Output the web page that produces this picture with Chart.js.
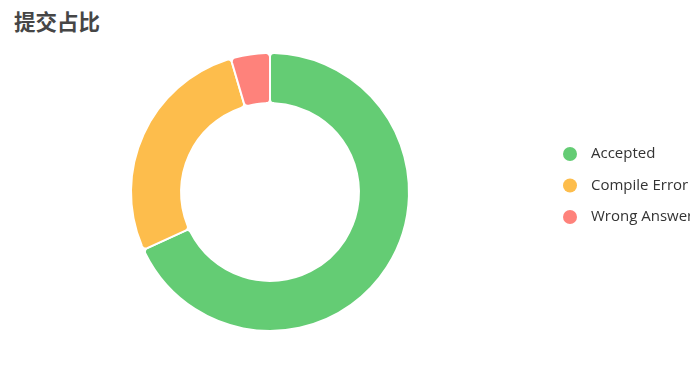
<!DOCTYPE html>
<html>
<head>
<meta charset="utf-8">
<script src="https://cdn.jsdelivr.net/npm/chart.js@4.4.1/dist/chart.umd.min.js"></script>
<style>
  html, body { margin: 0; padding: 0; background: #fff; }
  .wrap { position: relative; width: 690px; height: 376px; overflow: hidden; }
  .title {
    position: absolute; left: 14px; top: 5px;
    font-family: "Noto Sans CJK SC", sans-serif; font-weight: bold;
    font-size: 21.5px; color: #464646;
  }
  canvas { position: absolute; left: 0; top: 0; }
</style>
</head>
<body>
<div class="wrap">
  <div class="title">提交占比</div>
  <canvas id="chart" width="690" height="376"></canvas>
</div>
<script>
const labels = ["Accepted", "Compile Error", "Wrong Answer"];
const counts = [15, 6, 1];
const colors = ["#64cc74", "#fdbd4c", "#fe827b"];

// legend drawn on the right, it runs off the edge like the original
const sideLegend = {
  id: "sideLegend",
  afterDraw(chart) {
    const ctx = chart.ctx;
    const meta = chart.getDatasetMeta(0);
    ctx.save();
    ctx.font = '15px "Open Sans", sans-serif';
    ctx.textBaseline = "middle";
    chart.data.labels.forEach((label, i) => {
      const y = 154 + i * 31.5;
      ctx.beginPath();
      ctx.fillStyle = meta.data[i].options.backgroundColor;
      ctx.arc(570, y, 7, 0, Math.PI * 2);
      ctx.fill();
      ctx.fillStyle = "#333";
      ctx.fillText(label, 591, y);
    });
    ctx.restore();
  },
};

new Chart(document.getElementById("chart"), {
  type: "doughnut",
  data: {
    labels: labels,
    datasets: [
      {
        data: counts,
        backgroundColor: colors,
        borderColor: "#fff",
        borderWidth: 2,
        borderRadius: 4,
        hoverOffset: 0,
      },
    ],
  },
  options: {
    responsive: false,
    animation: false,
    cutout: "64%",
    layout: {
      padding: { top: 52, bottom: 44, left: 130, right: 280 },
    },
    plugins: {
      legend: { display: false },
      tooltip: { enabled: false },
    },
  },
  plugins: [sideLegend],
});
</script>
</body>
</html>
